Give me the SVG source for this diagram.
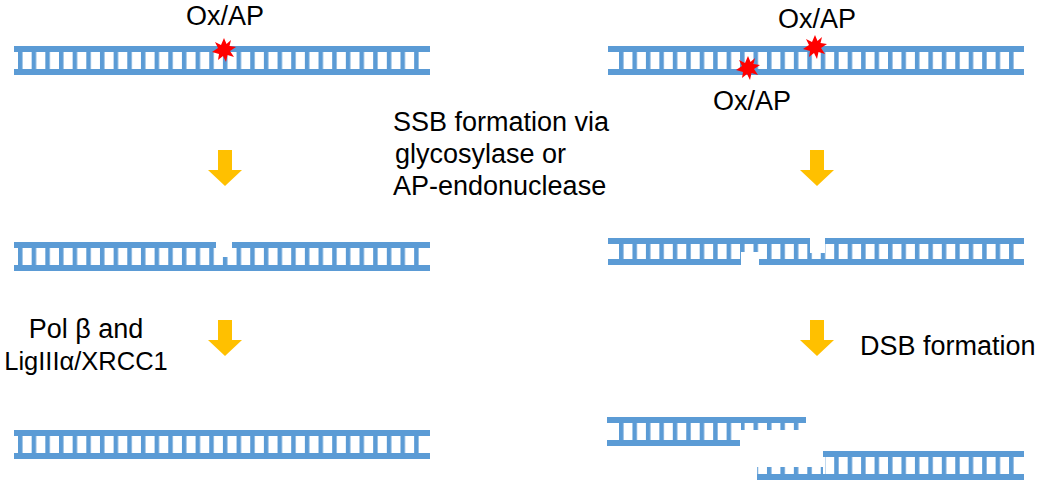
<svg xmlns="http://www.w3.org/2000/svg" width="1050" height="492" viewBox="0 0 1050 492">
<style>
.r{fill:#5b9bd5}
.w{fill:#fff}
.t{font-family:"Liberation Sans",Arial,sans-serif;font-size:27px;fill:#000}
.a{fill:#ffc000}
.s{fill:#ff0000}
</style>
<defs>
<pattern id="pl" patternUnits="userSpaceOnUse" x="18" y="0" width="13.66" height="500"><rect x="0" y="0" width="4.5" height="500" fill="#5b9bd5"/></pattern>
<pattern id="pr" patternUnits="userSpaceOnUse" x="619" y="0" width="13.45" height="500"><rect x="0" y="0" width="4.5" height="500" fill="#5b9bd5"/></pattern>
<polygon id="star" points="0,-12 2.5,-6 7,-10 5.5,-4 12,-3 6,1 10,7 3.5,5 2,12 -1,6 -6,10 -5,4 -12,2 -6,-2 -9,-8 -3,-5" />
<polygon id="arr" points="-7,0 7,0 7,20 17,20 0,36 -17,20 -7,20"/>
</defs>

<g id="left-dna-1">
<rect class="r" x="14" y="46" width="416" height="6"/>
<rect class="r" x="14" y="69" width="416" height="6"/>
<rect fill="url(#pl)" x="18" y="52" width="404" height="17"/>
</g>
<g id="left-lesion">
<use href="#star" class="s" x="224" y="50"/>
<text class="t" x="225" y="25" text-anchor="middle">Ox/AP</text>
</g>

<g id="left-dna-2">
<rect class="r" x="14" y="242" width="416" height="6"/>
<rect class="r" x="14" y="265" width="416" height="6"/>
<rect fill="url(#pl)" x="18" y="248" width="404" height="17"/>
<rect class="w" x="216" y="241" width="16" height="16"/>
</g>

<g id="left-dna-3">
<rect class="r" x="14" y="430" width="416" height="6"/>
<rect class="r" x="14" y="453" width="416" height="6"/>
<rect fill="url(#pl)" x="18" y="436" width="404" height="17"/>
</g>

<g id="right-dna-1">
<rect class="r" x="608" y="46" width="416" height="6"/>
<rect class="r" x="608" y="69" width="416" height="6"/>
<rect fill="url(#pr)" x="619" y="52" width="396" height="17"/>
</g>
<g id="right-lesions">
<use href="#star" class="s" x="815" y="47"/>
<use href="#star" class="s" x="748" y="68"/>
<text class="t" x="817" y="28" text-anchor="middle">Ox/AP</text>
<text class="t" x="752" y="110" text-anchor="middle">Ox/AP</text>
</g>

<g id="right-dna-2">
<rect class="r" x="608" y="238" width="416" height="6"/>
<rect class="r" x="608" y="259" width="416" height="6"/>
<rect fill="url(#pr)" x="619" y="244" width="396" height="15"/>
<rect class="w" x="741" y="252" width="18" height="14"/>
<rect class="w" x="810" y="237" width="15" height="16"/>
</g>

<g id="right-dna-3">
<rect class="r" x="607" y="417" width="199" height="6"/>
<rect class="r" x="607" y="440" width="133" height="6"/>
<rect fill="url(#pr)" x="619" y="423" width="120" height="17"/>
<rect fill="url(#pr)" x="741" y="423" width="66" height="7"/>
<rect class="r" x="823" y="451" width="201" height="6"/>
<rect class="r" x="757" y="474" width="267" height="6"/>
<rect fill="url(#pr)" x="825" y="457" width="190" height="17"/>
<rect fill="url(#pr)" x="757" y="467" width="66" height="7"/>
</g>

<g id="connectors">
<use href="#arr" class="a" x="225" y="150"/>
<use href="#arr" class="a" x="225" y="320"/>
<use href="#arr" class="a" x="817" y="150"/>
<use href="#arr" class="a" x="817" y="320"/>
</g>

<g id="labels">
<text class="t" x="393" y="131">SSB formation via</text>
<text class="t" x="395" y="163">glycosylase or</text>
<text class="t" x="393" y="195">AP-endonuclease</text>
<text class="t" x="86" y="338" text-anchor="middle">Pol β and</text>
<text class="t" x="86" y="370" text-anchor="middle" style="font-size:25.5px">LigIIIα/XRCC1</text>
<text class="t" x="860" y="355">DSB formation</text>
</g>
</svg>
